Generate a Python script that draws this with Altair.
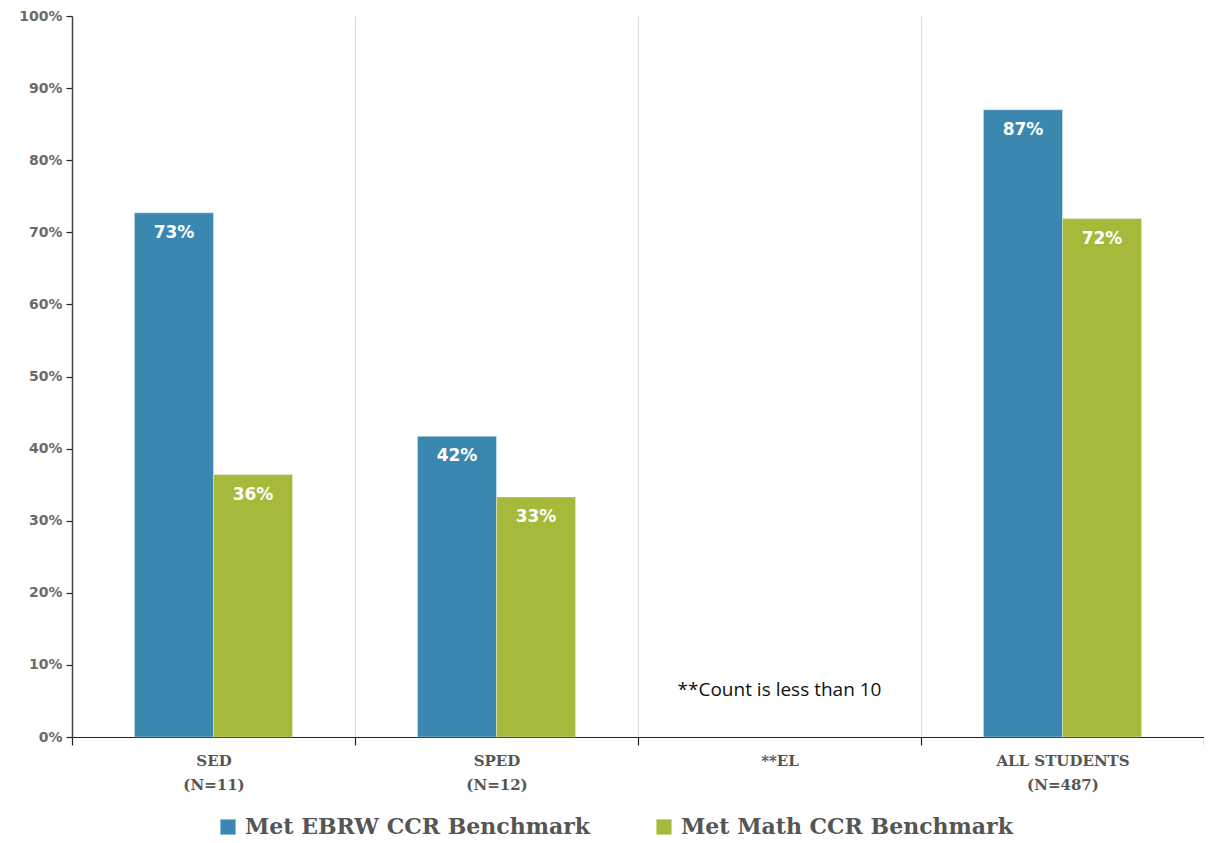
import altair as alt
import pandas as pd

groups = ["SED|(N=11)", "SPED|(N=12)", "**EL", "ALL STUDENTS|(N=487)"]
series = ["Met EBRW CCR Benchmark", "Met Math CCR Benchmark"]
ebrw = [0.727, 0.417, None, 0.87]
math = [0.364, 0.333, None, 0.719]
colors = ["#3a88b0", "#a6b93b"]
note_text = "**Count is less than 10"
note_group = "**EL"
note_y = 0.065

rows = []
for g, e, m in zip(groups, ebrw, math):
    if e is not None:
        rows.append({"group": g, "series": series[0], "value": e})
    if m is not None:
        rows.append({"group": g, "series": series[1], "value": m})
df = pd.DataFrame(rows)
df["label"] = (df["value"] * 100).round().astype(int).astype(str) + "%"

W, H = 1132, 721

x_enc = alt.X("group:N", sort=groups,
              scale=alt.Scale(domain=groups, paddingInner=0, paddingOuter=0),
              axis=alt.Axis(title=None, labelAngle=0, tickBand="extent", grid=True,
                            gridColor="#d9d9d9", gridWidth=1,
                            domainColor="#222222", domainWidth=1.2,
                            tickColor="#222222", tickSize=8, tickWidth=1.2,
                            labelExpr="split(datum.label, '|')",
                            labelFont="DejaVu Serif", labelFontWeight="bold",
                            labelFontSize=15, labelColor="#555555",
                            labelLineHeight=24, labelPadding=8))

y_enc = alt.Y("value:Q", scale=alt.Scale(domain=[0, 1]),
              axis=alt.Axis(title=None, format=".0%", values=[i / 10 for i in range(11)],
                            grid=False, domainColor="#444444", domainWidth=1.5,
                            tickColor="#222222", tickSize=6, tickWidth=1.2,
                            labelFont="DejaVu Sans", labelFontWeight="bold",
                            labelFontSize=14, labelColor="#6a6a6a", labelPadding=4))

xo = alt.XOffset("series:N", sort=series,
                 scale=alt.Scale(domain=series, paddingInner=0, paddingOuter=0.79))

bars = alt.Chart(df).mark_bar(stroke="white", strokeWidth=0.6, strokeOpacity=0.6).encode(
    x=x_enc, y=y_enc, xOffset=xo,
    color=alt.Color("series:N", sort=series,
                    scale=alt.Scale(domain=series, range=colors),
                    legend=alt.Legend(title=None, orient="none", legendX=145, legendY=800,
                                      direction="horizontal", columns=2, columnPadding=62,
                                      symbolType="square", symbolSize=230,
                                      symbolStrokeWidth=0, symbolOffset=0,
                                      labelFont="DejaVu Serif", labelFontWeight="bold",
                                      labelFontSize=22, labelColor="#555555",
                                      labelLimit=500, labelOffset=6)),
)

labels = alt.Chart(df).mark_text(baseline="top", dy=12, color="white",
                                 font="DejaVu Sans", fontWeight="bold", fontSize=17).encode(
    x=alt.X("group:N", sort=groups), y="value:Q", xOffset=xo, text="label:N")

note_df = pd.DataFrame({"group": [note_group], "value": [note_y], "t": [note_text]})
note = alt.Chart(note_df).mark_text(font="Open Sans", fontSize=19, color="#111111").encode(
    x=alt.X("group:N", sort=groups), y="value:Q", text="t:N")

chart = alt.layer(bars, labels, note).properties(
    width=W, height=H,
    background="white",
    autosize=alt.AutoSizeParams(type="none"),
    padding={"left": 64, "top": 8, "right": 0, "bottom": 105},
).configure_view(stroke=None)

chart.save("out.html", embed_options={"renderer": "svg", "actions": False})
